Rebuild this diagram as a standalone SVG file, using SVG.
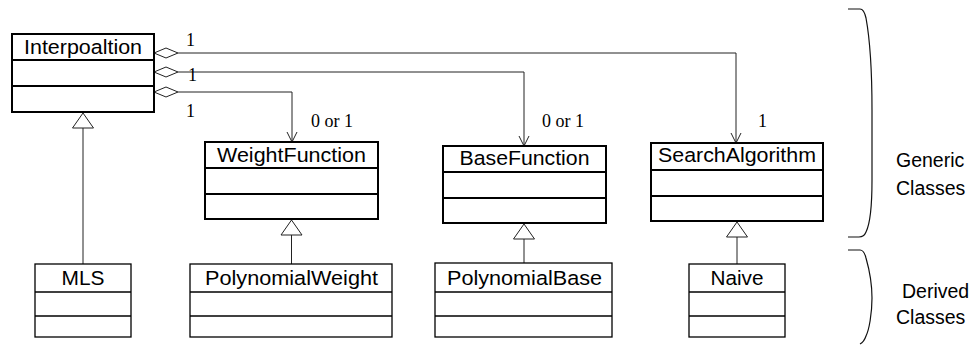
<svg xmlns="http://www.w3.org/2000/svg" width="969" height="347" viewBox="0 0 969 347">
  <style>
    .box { fill: #fff; stroke: #000; }
    .thick { stroke-width: 2; }
    .thin { stroke-width: 1.3; }
    .name { font-family: "Liberation Sans", Arial, sans-serif; font-size: 20.5px; fill: #000; text-anchor: middle; }
    .mult { font-family: "Liberation Serif", "Times New Roman", serif; font-size: 18px; fill: #000; }
    .note { font-family: "Liberation Sans", Arial, sans-serif; font-size: 19.5px; fill: #000; }
    .conn { fill: none; stroke: #222; stroke-width: 1; }
    .diamond { fill: #fff; stroke: #222; stroke-width: 1; }
    .tri { fill: #fff; stroke: #222; stroke-width: 1; }
    .brace { fill: none; stroke: #111; stroke-width: 1.2; }
  </style>
  <defs>
    <marker id="open" markerWidth="12" markerHeight="12" viewBox="0 0 12 12" refX="11" refY="6" orient="auto" markerUnits="userSpaceOnUse">
      <path d="M1,1 L11,6 L1,11" fill="none" stroke="#222" stroke-width="1"/>
    </marker>
  </defs>

  <!-- connectors -->
  <g id="connectors">
    <!-- aggregations from Interpoaltion -->
    <polyline class="conn" points="178,53 736,53 736,143" marker-end="url(#open)"/>
    <polyline class="conn" points="178,72 524,72 524,146" marker-end="url(#open)"/>
    <polyline class="conn" points="178,92 292,92 292,142" marker-end="url(#open)"/>
    <polygon class="diamond" points="154,53 166,48 178,53 166,58"/>
    <polygon class="diamond" points="154,72 166,67 178,72 166,77"/>
    <polygon class="diamond" points="154,92 166,87 178,92 166,97"/>
    <text class="mult" x="186" y="46">1</text>
    <text class="mult" x="188" y="81">1</text>
    <text class="mult" x="186" y="117">1</text>
    <text class="mult" x="311" y="127">0 or 1</text>
    <text class="mult" x="542" y="127">0 or 1</text>
    <text class="mult" x="758" y="127">1</text>

    <!-- generalizations -->
    <line class="conn" x1="83" y1="128" x2="83" y2="264"/>
    <polygon class="tri" points="83,113 93.5,128 72.5,128"/>
    <line class="conn" x1="291.5" y1="235" x2="291.5" y2="264"/>
    <polygon class="tri" points="291.5,220 302,235 281,235"/>
    <line class="conn" x1="524" y1="239" x2="524" y2="263"/>
    <polygon class="tri" points="524,224 534.5,239 513.5,239"/>
    <line class="conn" x1="737" y1="237" x2="737" y2="264"/>
    <polygon class="tri" points="737,222 747.5,237 726.5,237"/>
  </g>

  <!-- generic classes -->
  <g id="Interpoaltion">
    <rect class="box thick" x="12" y="34" width="142" height="78"/>
    <line class="box thick" x1="12" y1="60" x2="154" y2="60"/>
    <line class="box thick" x1="12" y1="86" x2="154" y2="86"/>
    <text class="name" x="83" y="54" textLength="118" lengthAdjust="spacingAndGlyphs">Interpoaltion</text>
  </g>
  <g id="WeightFunction">
    <rect class="box thick" x="205" y="142" width="173" height="77"/>
    <line class="box thick" x1="205" y1="168" x2="378" y2="168"/>
    <line class="box thick" x1="205" y1="194" x2="378" y2="194"/>
    <text class="name" x="291.5" y="162" textLength="149" lengthAdjust="spacingAndGlyphs">WeightFunction</text>
  </g>
  <g id="BaseFunction">
    <rect class="box thick" x="443" y="146" width="163" height="77"/>
    <line class="box thick" x1="443" y1="172" x2="606" y2="172"/>
    <line class="box thick" x1="443" y1="198" x2="606" y2="198"/>
    <text class="name" x="524.5" y="165" textLength="130" lengthAdjust="spacingAndGlyphs">BaseFunction</text>
  </g>
  <g id="SearchAlgorithm">
    <rect class="box thick" x="651" y="143" width="172" height="78"/>
    <line class="box thick" x1="651" y1="170" x2="823" y2="170"/>
    <line class="box thick" x1="651" y1="196" x2="823" y2="196"/>
    <text class="name" x="737" y="162" textLength="158" lengthAdjust="spacingAndGlyphs">SearchAlgorithm</text>
  </g>

  <!-- derived classes -->
  <g id="MLS">
    <rect class="box thin" x="35" y="264" width="96" height="73"/>
    <line class="box thin" x1="35" y1="292" x2="131" y2="292"/>
    <line class="box thin" x1="35" y1="316" x2="131" y2="316"/>
    <text class="name" x="83" y="285" textLength="43" lengthAdjust="spacingAndGlyphs">MLS</text>
  </g>
  <g id="PolynomialWeight">
    <rect class="box thin" x="190" y="264" width="202" height="73"/>
    <line class="box thin" x1="190" y1="292" x2="392" y2="292"/>
    <line class="box thin" x1="190" y1="316" x2="392" y2="316"/>
    <text class="name" x="291.5" y="285" textLength="173" lengthAdjust="spacingAndGlyphs">PolynomialWeight</text>
  </g>
  <g id="PolynomialBase">
    <rect class="box thin" x="435" y="263" width="177" height="74"/>
    <line class="box thin" x1="435" y1="292" x2="612" y2="292"/>
    <line class="box thin" x1="435" y1="316" x2="612" y2="316"/>
    <text class="name" x="524.5" y="285" textLength="155" lengthAdjust="spacingAndGlyphs">PolynomialBase</text>
  </g>
  <g id="Naive">
    <rect class="box thin" x="689" y="264" width="96" height="73"/>
    <line class="box thin" x1="689" y1="292" x2="785" y2="292"/>
    <line class="box thin" x1="689" y1="316" x2="785" y2="316"/>
    <text class="name" x="737" y="285" textLength="53" lengthAdjust="spacingAndGlyphs">Naive</text>
  </g>

  <!-- group braces -->
  <g id="generic-brace">
    <path class="brace" d="M848,9 H860 Q864,9 866,18 C870,40 872,70 872,110 V180 C872,212 869,226 866,232 Q864,237 859,237 H848"/>
    <text class="note" x="896" y="167">Generic</text>
    <text class="note" x="896" y="195">Classes</text>
  </g>
  <g id="derived-brace">
    <path class="brace" d="M848,250 H860 Q864,250 866,258 C870,272 872,286 872,298 C872,314 869,330 866,336 Q864,342 860,344"/>
    <text class="note" x="902" y="298">Derived</text>
    <text class="note" x="896" y="324">Classes</text>
  </g>
</svg>
